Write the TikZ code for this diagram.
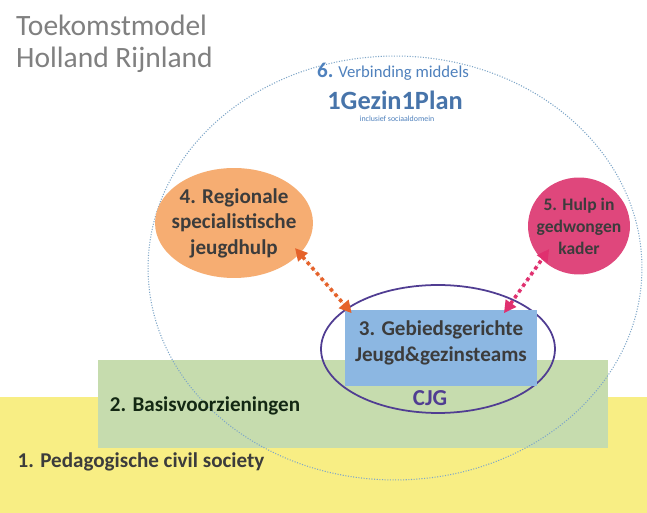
\documentclass[tikz,border=0pt]{standalone}
\usepackage{fontspec}
\setmainfont{Carlito}
\usetikzlibrary{shapes.geometric,arrows.meta}

\definecolor{geel}{HTML}{F8EE84}
\definecolor{groen}{HTML}{C6DCAE}
\definecolor{blauw}{HTML}{8CB7E2}
\definecolor{oranje}{HTML}{F6AD72}
\definecolor{roze}{HTML}{DF477C}
\definecolor{paars}{HTML}{503D92}
\definecolor{stip}{HTML}{7EA6C8}
\definecolor{tekst}{HTML}{3C3C3C}
\definecolor{zesblauw}{HTML}{4F81BD}
\definecolor{pijloranje}{HTML}{E5622A}
\definecolor{pijlroze}{HTML}{E0306F}

\begin{document}
\begin{tikzpicture}[x=0.02cm,y=-0.02cm]
  \tikzset{vlak/.style={draw=none,inner sep=0pt},
    lbl/.style={text=tekst,font=\bfseries\fontsize{12}{14.5}\selectfont,align=center},
    pijl/.style={line width=2pt,dash pattern=on 2pt off 2pt,
      {Triangle[length=7pt,width=7pt]}-{Triangle[length=7pt,width=7pt]}}}
  \useasboundingbox (0,0) rectangle (647,513);
  \fill[white] (0,0) rectangle (647,513);
  % lagen
  \node[vlak,fill=geel,minimum width=12.94cm,minimum height=2.32cm] (laag1) at (323.5,455) {};
  \node[vlak,fill=groen,minimum width=10.2cm,minimum height=1.76cm] (laag2) at (353,404) {};
  \node[draw=stip,ellipse,line width=0.6pt,dash pattern=on 0.6pt off 0.9pt,
    minimum width=9.88cm,minimum height=8.48cm] (verbinding) at (395,268) {};
  \node[draw=paars,ellipse,line width=1pt,minimum width=4.68cm,minimum height=2.56cm] (cjgrand) at (438,349) {};
  \node[vlak,fill=blauw,minimum width=3.84cm,minimum height=1.52cm] (gebied) at (441,348) {};
  \node[lbl] (gebiedtekst) at ([yshift=3pt]gebied) {3. Gebiedsgerichte\\Jeugd\&gezinsteams};
  \node[vlak,ellipse,fill=oranje,minimum width=3.16cm,minimum height=2.2cm] (regio) at (234,223) {};
  \node[lbl] (regiotekst) at (regio) {4. Regionale\\specialistische\\jeugdhulp};
  \node[vlak,ellipse,fill=roze,minimum width=2.04cm,minimum height=1.94cm] (dwang) at (579,226) {};
  \node[lbl,font=\bfseries\fontsize{10}{12.5}\selectfont] (dwangtekst) at (dwang) {5. Hulp in\\gedwongen\\kader};
  % teksten
  \node[anchor=north west,align=left,text=black!50,font=\fontsize{16.8}{18}\selectfont] (titel) at (10,9)
    {Toekomstmodel\\Holland Rijnland};
  \node[text=zesblauw,font=\fontsize{9.5}{11}\selectfont] (zes) at (393,72)
    {\textbf{\fontsize{12}{14}\selectfont 6.} Verbinding middels};
  \node[text=zesblauw!90!black,font=\bfseries\fontsize{15}{17}\selectfont] (plan) at (395,100) {1Gezin1Plan};
  \node[text=zesblauw,font=\fontsize{4.5}{5}\selectfont] (incl) at (397,119) {inclusief sociaaldomein};
  \node[text=paars,font=\bfseries\fontsize{13}{15}\selectfont] (cjg) at (430,398) {CJG};
  \node[lbl,text=tekst!80!green!40!black] (basis) at (205,406) {2. Basisvoorzieningen};
  \node[lbl] (pedag) at (141,462) {1. Pedagogische civil society};
  % pijlen
  \draw[pijl,draw=pijloranje,fill=pijloranje,shorten <=-4.3pt] (regio.-25) -- ([xshift=4pt,yshift=-2pt]gebied.north west);
  \draw[pijl,draw=pijlroze,fill=pijlroze,shorten >=-7.4pt] ([xshift=-19pt,yshift=-2pt]gebied.north east) -- (dwang.-138);
\end{tikzpicture}
\end{document}
